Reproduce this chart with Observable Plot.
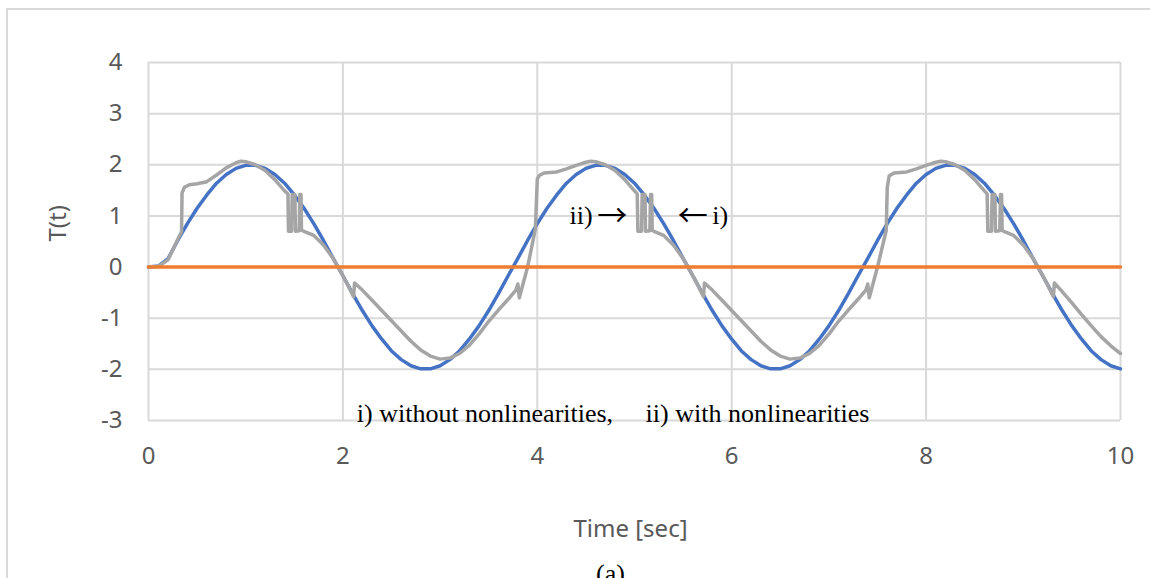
<!DOCTYPE html>
<html>
<head>
<meta charset="utf-8">
<script src="https://cdn.jsdelivr.net/npm/d3@7"></script>
<script src="https://cdn.jsdelivr.net/npm/@observablehq/plot@0.6"></script>
<style>
  html, body { margin: 0; padding: 0; background: #fff; overflow: hidden; }
  #chart { position: relative; width: 1150px; height: 578px; }
  #chart svg { position: absolute; left: 0; top: 0; }
  #outline {
    position: absolute; left: 6px; top: 8px; width: 1300px; height: 800px;
    border: 2px solid #d9d9d9; box-sizing: border-box; pointer-events: none;
  }
</style>
</head>
<body>
<div id="chart"><div id="outline"></div></div>
<script>
// Axis ticks
const xTicks = [0, 2, 4, 6, 8, 10];
const yTicks = [-3, -2, -1, 0, 1, 2, 3, 4];

// i) reference response without nonlinearities, sampled every 0.1 s
const blueTime = d3.range(0, 101).map(i => i / 10);
const blueValue = [
  0, 0.02, 0.16, 0.52, 0.85, 1.15, 1.41, 1.64, 1.81, 1.93,
  1.99, 1.99, 1.93, 1.81, 1.64, 1.41, 1.15, 0.85, 0.52, 0.17,
  -0.17, -0.52, -0.85, -1.15, -1.41, -1.64, -1.81, -1.93, -1.99, -1.99,
  -1.93, -1.81, -1.64, -1.41, -1.15, -0.85, -0.52, -0.17, 0.17, 0.52,
  0.85, 1.15, 1.41, 1.64, 1.81, 1.93, 1.99, 1.99, 1.93, 1.81,
  1.64, 1.41, 1.15, 0.85, 0.52, 0.17, -0.17, -0.52, -0.85, -1.15,
  -1.41, -1.64, -1.81, -1.93, -1.99, -1.99, -1.93, -1.81, -1.64, -1.41,
  -1.15, -0.85, -0.52, -0.17, 0.17, 0.52, 0.85, 1.15, 1.41, 1.64,
  1.81, 1.93, 1.99, 1.99, 1.93, 1.81, 1.64, 1.41, 1.15, 0.85,
  0.52, 0.17, -0.17, -0.52, -0.85, -1.15, -1.41, -1.64, -1.81, -1.93,
  -1.99
];

// ii) response with nonlinearities (jumps and chattering near the peaks)
const grayTime = [
  0, 0.1, 0.2, 0.3, 0.34, 0.345, 0.37, 0.42, 0.5, 0.6,
  0.7, 0.8, 0.9, 0.95, 1.0, 1.1, 1.2, 1.3, 1.4, 1.435,
  1.44, 1.472, 1.478, 1.506, 1.512, 1.55, 1.557, 1.569, 1.574, 1.6,
  1.7, 1.8, 1.9, 2.0, 2.05, 2.11, 2.12, 2.2, 2.3, 2.4,
  2.5, 2.6, 2.7, 2.8, 2.9, 3.0, 3.1, 3.2, 3.3, 3.4,
  3.5, 3.6, 3.7, 3.78, 3.8, 3.815, 3.9, 3.98, 4.0, 4.02,
  4.07, 4.2, 4.3, 4.4, 4.5, 4.55, 4.6, 4.7, 4.8, 4.9,
  5.0, 5.028, 5.035, 5.072, 5.079, 5.108, 5.113, 5.158, 5.165, 5.177,
  5.182, 5.2, 5.3, 5.4, 5.5, 5.6, 5.65, 5.71, 5.72, 5.8,
  5.9, 6.0, 6.1, 6.2, 6.3, 6.4, 6.5, 6.6, 6.7, 6.8,
  6.9, 7.0, 7.1, 7.2, 7.3, 7.38, 7.4, 7.415, 7.5, 7.59,
  7.6, 7.62, 7.67, 7.8, 7.9, 8.0, 8.1, 8.15, 8.2, 8.3,
  8.4, 8.5, 8.6, 8.628, 8.635, 8.672, 8.679, 8.708, 8.713, 8.758,
  8.765, 8.777, 8.782, 8.8, 8.9, 9.0, 9.1, 9.2, 9.25, 9.31,
  9.32, 9.4, 9.5, 9.6, 9.7, 9.8, 9.9, 10.0
];
const grayValue = [
  0, 0.01, 0.14, 0.54, 0.69, 1.45, 1.56, 1.61, 1.63, 1.67,
  1.80, 1.94, 2.04, 2.07, 2.06, 2.00, 1.89, 1.71, 1.49, 1.43,
  0.70, 0.70, 1.42, 1.42, 0.70, 0.71, 1.42, 1.42, 0.72, 0.70,
  0.62, 0.43, 0.17, -0.17, -0.35, -0.58, -0.31, -0.45, -0.65, -0.85,
  -1.05, -1.25, -1.45, -1.62, -1.74, -1.80, -1.78, -1.69, -1.53, -1.31,
  -1.06, -0.84, -0.63, -0.45, -0.33, -0.60, 0.0, 0.74, 1.72, 1.79,
  1.84, 1.86, 1.92, 1.99, 2.05, 2.07, 2.06, 2.00, 1.89, 1.71,
  1.49, 1.43, 0.70, 0.70, 1.42, 1.42, 0.70, 0.71, 1.42, 1.42,
  0.72, 0.70, 0.62, 0.43, 0.17, -0.17, -0.35, -0.58, -0.31, -0.45,
  -0.65, -0.85, -1.05, -1.25, -1.45, -1.62, -1.74, -1.80, -1.78, -1.69,
  -1.53, -1.31, -1.06, -0.84, -0.63, -0.45, -0.33, -0.60, 0.0, 0.72,
  1.55, 1.78, 1.84, 1.86, 1.92, 1.99, 2.05, 2.07, 2.06, 2.00,
  1.89, 1.71, 1.49, 1.43, 0.70, 0.70, 1.42, 1.42, 0.70, 0.71,
  1.42, 1.42, 0.72, 0.70, 0.62, 0.43, 0.17, -0.17, -0.35, -0.58,
  -0.31, -0.48, -0.70, -0.93, -1.15, -1.36, -1.54, -1.69
];

// zero line
const zeroTime = [0, 10];
const zeroValue = [0, 0];

const sans = "'Noto Sans', 'Open Sans', sans-serif";
const serif = "'Liberation Serif', 'DejaVu Serif', serif";
const arrowFont = "'Noto Sans CJK JP', 'DejaVu Sans', sans-serif";
const tickColor = "#595959";
const gridColor = "#d9d9d9";

const chart = Plot.plot({
  width: 1150,
  height: 578,
  marginLeft: 148,
  marginRight: 30,
  marginTop: 62,
  marginBottom: 158,
  style: { background: "transparent", fontFamily: sans, overflow: "visible" },
  x: { domain: [0, 10] },
  y: { domain: [-3, 4] },
  marks: [
    Plot.gridX(xTicks, { stroke: gridColor, strokeOpacity: 1, strokeWidth: 2 }),
    Plot.gridY(yTicks, { stroke: gridColor, strokeOpacity: 1, strokeWidth: 2 }),
    Plot.axisX(xTicks, {
      tickSize: 0, tickPadding: 26, label: null,
      tickFormat: d => String(d), fill: tickColor, fontSize: 24, fontFamily: sans
    }),
    Plot.axisY(yTicks, {
      tickSize: 0, tickPadding: 26, label: null,
      tickFormat: d => String(d), fill: tickColor, fontSize: 24, fontFamily: sans
    }),
    Plot.lineY(blueValue, {
      x: blueTime, stroke: "#4472c4", strokeWidth: 3.5,
      strokeLinejoin: "round", strokeLinecap: "round"
    }),
    Plot.lineY(grayValue, {
      x: grayTime, stroke: "#a5a5a5", strokeWidth: 3.5,
      strokeLinejoin: "round", strokeLinecap: "round"
    }),
    Plot.lineY(zeroValue, {
      x: zeroTime, stroke: "#ed7d31", strokeWidth: 3.5
    }),
    // axis titles
    Plot.text(["T(t)"], {
      frameAnchor: "left", dx: -90, rotate: -90,
      fill: tickColor, fontSize: 24, fontFamily: sans
    }),
    Plot.text(["Time [sec]"], {
      frameAnchor: "bottom", dx: -4, dy: 116,
      fill: tickColor, fontSize: 24, fontFamily: sans
    }),
    // annotations
    Plot.text(["i) without nonlinearities,\u00a0\u00a0\u00a0\u00a0 ii) with nonlinearities"], {
      x: 4.78, y: -2.86, fill: "#000", fontSize: 26, fontFamily: serif
    }),
    Plot.text(["ii)"], {
      x: 4.57, y: 1, textAnchor: "end", fill: "#000", fontSize: 26, fontFamily: serif
    }),
    Plot.text(["\u2192"], {
      x: 4.77, y: 1, fill: "#000", fontSize: 30, fontFamily: arrowFont
    }),
    Plot.text(["\u2190"], {
      x: 5.6, y: 1, fill: "#000", fontSize: 30, fontFamily: arrowFont
    }),
    Plot.text(["i)"], {
      x: 5.8, y: 1, textAnchor: "start", fill: "#000", fontSize: 26, fontFamily: serif
    }),
    Plot.text(["(a)"], {
      frameAnchor: "bottom", dx: -24, dy: 161,
      fill: "#000", fontSize: 26, fontFamily: serif
    })
  ]
});

document.getElementById("chart").prepend(chart);
</script>
</body>
</html>
